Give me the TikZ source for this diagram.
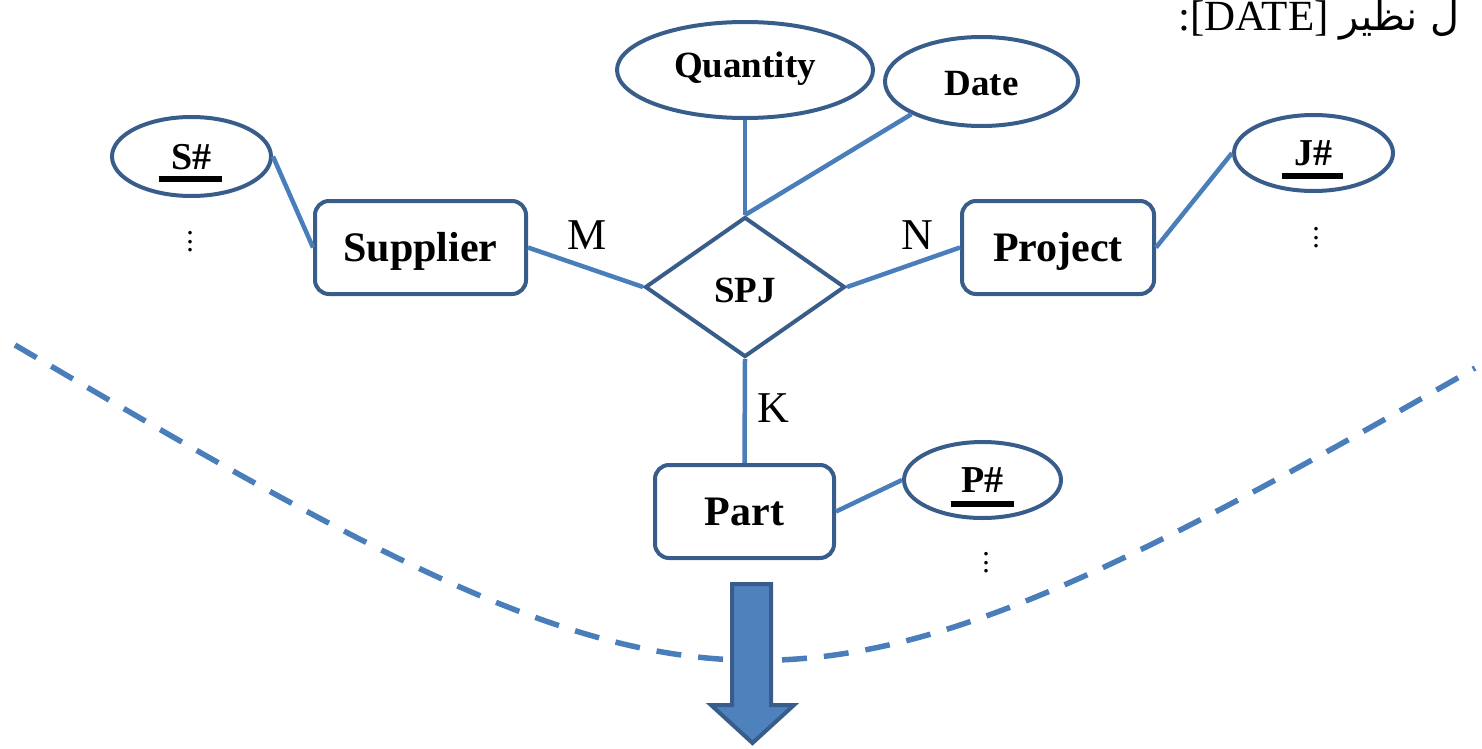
\documentclass[tikz,border=0pt]{standalone}
\usepackage{fontspec}
\setmainfont{Liberation Serif}
\newfontfamily\arabicfont[Script=Arabic]{DejaVu Sans}
\TeXXeTstate=1
\usetikzlibrary{shapes.geometric,calc}
\definecolor{linkc}{HTML}{4A7EBB}
\definecolor{bord}{HTML}{385D8A}
\definecolor{afill}{HTML}{4F81BD}
\begin{document}
\begin{tikzpicture}[x=1pt,y=-1pt,
  entity/.style={draw=bord,line width=4pt,rounded corners=14pt,inner sep=0pt,
    font=\fontsize{42}{50}\selectfont\bfseries,text height=27.5pt,text depth=0pt,minimum height=93pt},
  attr/.style={ellipse,draw=bord,line width=4pt,inner sep=0pt,
    font=\fontsize{37}{44}\selectfont\bfseries,text height=24.5pt,text depth=0pt},
  keyattr/.style={attr,font=\fontsize{38}{45}\selectfont\bfseries,text height=25pt},
  rel/.style={diamond,draw=bord,line width=4pt,inner sep=0pt,
    font=\fontsize{37}{44}\selectfont\bfseries,text height=24.5pt,text depth=0pt},
  link/.style={draw=linkc,line width=4.5pt},
  card/.style={font=\fontsize{44}{52}\selectfont,inner sep=0pt},
  vdotsn/.style={align=center,inner sep=0pt,font=\fontsize{30}{8.5}\selectfont},
  keyline/.style={line width=6pt,black}
]
\useasboundingbox (0,0) rectangle (1482,749);

% header text (partly cut off)
\node[anchor=base west,inner sep=0pt,font=\fontsize{43}{50}\selectfont] (hdr) at (1178,31)
  {:[DATE] {\arabicfont\fontsize{40}{48}\selectfont\beginR ل نظير\endR}};

% dashed boundary
\draw[draw=linkc,line width=5.5pt,dash pattern=on 25pt off 17pt]
  (15,345) .. controls (713,755) and (777,768) .. (1475,368);

% entities
\node[entity,minimum width=211pt] (sup) at (420.5,247.5) {Supplier};
\node[entity,minimum width=192pt] (proj) at (1058,247.5) {Project};
\node[entity,minimum width=179pt] (part) at (744.5,511.5) {Part};

% relationship
\node[rel,minimum width=200pt,minimum height=140pt] (spj) at (745,287) {\raisebox{-3pt}{SPJ}};

% attributes
\node[attr,minimum width=256pt,minimum height=96pt] (qty) at (745,70) {\raisebox{5pt}{Quantity}};
\node[attr,minimum width=193pt,minimum height=89pt] (date) at (981.5,81.5) {\raisebox{-2pt}{Date}};
\node[keyattr,minimum width=159pt,minimum height=79pt] (sk) at (191.5,156.5) {S\#};
\node[keyattr,minimum width=159pt,minimum height=76pt] (jk) at (1313.5,153) {J\#};
\node[keyattr,minimum width=157pt,minimum height=76pt] (pk) at (982.5,480) {P\#};

% key underlines
\draw[keyline] ($(sk.center)+(-33,22)$) -- ($(sk.center)+(30.5,22)$);
\draw[keyline] ($(jk.center)+(-31.5,23)$) -- ($(jk.center)+(29.5,23)$);
\draw[keyline] ($(pk.center)+(-32,23.5)$) -- ($(pk.center)+(31,23.5)$);

% vertical dots
\node[vdotsn] (sd) at (190,242) {.\\.\\.};
\node[vdotsn] (jd) at (1316,238) {.\\.\\.};
\node[vdotsn] (pd) at (986,563) {.\\.\\.};

% connectors
\draw[link] (sk.east) -- (sup.west);
\draw[link] (sup.east) -- (spj.west);
\draw[link] (spj.east) -- (proj.west);
\draw[link] (proj.east) -- (jk.west);
\draw[link] (spj.north) -- (qty.south);
\draw[link] (spj.north) -- (date.205);
\draw[link] (spj.south) -- (part.north);
\draw[link] (part.east) -- (pk.west);

% cardinalities
\node[card] (m) at (587,235) {M};
\node[card] (n) at (917,235) {N};
\node[card] (k) at (773,408) {K};

% block arrow
\draw[draw=bord,fill=afill,line width=4pt,line join=miter]
  (732,584) -- (771,584) -- (771,705) -- (794,705) -- (752.5,743) -- (711,705) -- (732,705) -- cycle;
\end{tikzpicture}
\end{document}
